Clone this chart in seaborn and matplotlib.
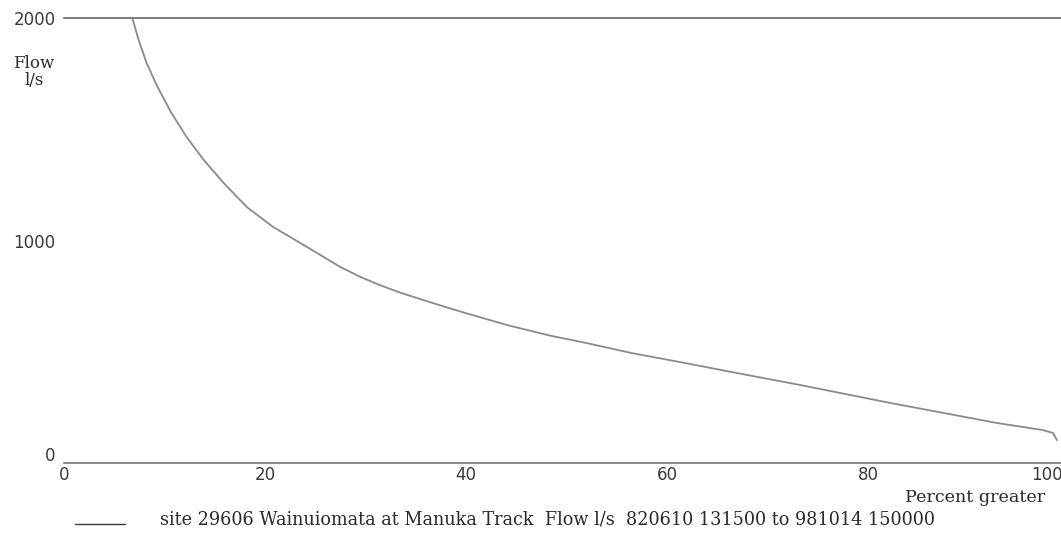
import matplotlib
matplotlib.use("Agg")
import matplotlib.pyplot as plt
import matplotlib.transforms as mtransforms
import seaborn as sns
import pandas as pd

# Flow duration curve
percent_greater = [6.8, 7.4, 8.2, 9.2, 10.6, 12.2, 13.9, 15.9, 18.2, 20.8, 23.5,
                   25.5, 27.5, 29.4, 31.4, 33.5, 35.7, 37.9, 40.1, 44.1, 48.4,
                   51.6, 56.6, 61.6, 67.0, 73.2, 77.2, 82.2, 87.5, 92.8,
                   97.4, 98.4, 98.8]
flow_ls = [2000, 1905, 1800, 1700, 1580, 1465, 1362, 1258, 1150, 1061, 989,
           935, 881, 838, 800, 765, 733, 702, 672, 620, 572,
           543, 493, 451, 404, 351, 315, 270, 225, 180,
           148, 135, 103]
x_ticks = [0, 20, 40, 60, 80, 100]
y_ticks = [0, 1000, 2000]
y_label = "Flow\nl/s"
x_label = "Percent greater"
legend_text = "site 29606 Wainuiomata at Manuka Track  Flow l/s  820610 131500 to 981014 150000"

df = pd.DataFrame({"pct": percent_greater, "flow": flow_ls})

sns.set_theme(style="white")
plt.rcParams["font.family"] = ["DejaVu Sans"]

W, H = 1061, 533
fig = plt.figure(figsize=(W / 100, H / 100), dpi=100)
ax = fig.add_axes([64 / W, (H - 463) / H, 1005 / W, 445 / H])

sns.lineplot(data=df, x="pct", y="flow", ax=ax, color="#8a8a8a", linewidth=1.3,
             estimator=None, sort=False)

ax.set_xlim(0, 100)
ax.set_ylim(0, 2000)
ax.set_xticks(x_ticks)
ax.set_yticks(y_ticks)
ax.set_xlabel("")
ax.set_ylabel("")

for s in ["left", "right"]:
    ax.spines[s].set_visible(False)
ax.spines["top"].set_color("#6a6a6a")
ax.spines["top"].set_linewidth(1.2)
ax.spines["bottom"].set_color("#6a6a6a")
ax.spines["bottom"].set_linewidth(1.1)

ax.tick_params(axis="x", direction="in", length=4, width=0.8, color="#888888",
               pad=2, labelsize=12, labelcolor="#3a3a3a")
ax.tick_params(axis="y", direction="inout", length=8, width=0.8, color="#888888",
               pad=2, labelsize=12, labelcolor="#3a3a3a", right=True)

# keep the "100" label inside the page
lbl = ax.get_xticklabels()[-1]
lbl.set_transform(lbl.get_transform() + mtransforms.ScaledTranslation(-0.22, 0, fig.dpi_scale_trans))
# the "0" label sits slightly above the axis line
lbl0 = ax.get_yticklabels()[0]
lbl0.set_transform(lbl0.get_transform() + mtransforms.ScaledTranslation(0, 0.09, fig.dpi_scale_trans))

serif = ["DejaVu Serif"]
fig.text(34 / W, 1 - 72 / H, y_label, ha="center", va="center", fontsize=12,
         family=serif, color="#2a2a2a", linespacing=0.95)
fig.text(1045 / W, 1 - 497 / H, x_label, ha="right", va="center", fontsize=12.6,
         family=serif, color="#2a2a2a")
fig.text(160 / W, 1 - 520 / H, legend_text, ha="left", va="center", fontsize=12.7,
         family=serif, color="#2a2a2a")
fig.add_artist(plt.Line2D([75 / W, 125 / W], [1 - 524 / H, 1 - 524 / H],
                          transform=fig.transFigure, color="#3a3a3a", linewidth=1.0))

fig.savefig("out.png", dpi=100)
